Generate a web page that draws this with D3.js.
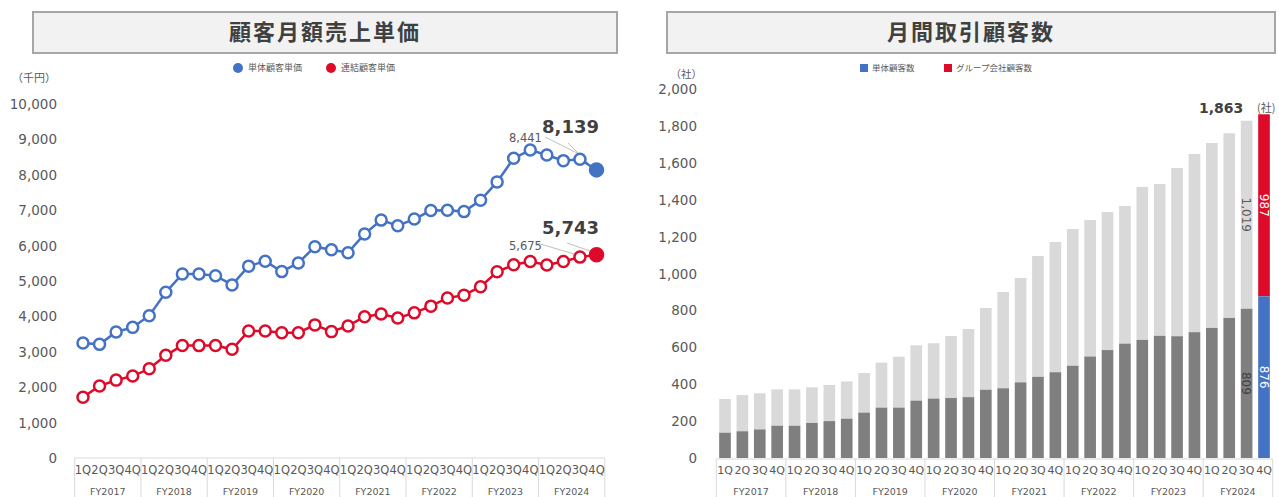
<!DOCTYPE html>
<html>
<head>
<meta charset="utf-8">
<script src="https://cdn.jsdelivr.net/npm/d3@7"></script>
<style>
  body { margin: 0; background: #fff; }
  svg { display: block; }
</style>
</head>
<body>
<div id="chart"></div>
<script>
// ---- data ----
const quarters = ["1Q", "2Q", "3Q", "4Q"];
const fiscalYears = ["FY2017", "FY2018", "FY2019", "FY2020", "FY2021", "FY2022", "FY2023", "FY2024"];

// 顧客月額売上単価 (千円)
const standalonePrice = [3250, 3210, 3560, 3690, 4020, 4680, 5200, 5200, 5150, 4890, 5420, 5560,
  5265, 5510, 5970, 5880, 5800, 6330, 6720, 6560, 6750, 6990, 7000, 6960,
  7280, 7800, 8470, 8700, 8560, 8400, 8441, 8139];
const consolidatedPrice = [1715, 2035, 2200, 2315, 2520, 2900, 3180, 3175, 3180, 3070, 3590, 3590,
  3540, 3540, 3760, 3570, 3730, 3990, 4070, 3955, 4100, 4290, 4520, 4600,
  4840, 5260, 5460, 5550, 5450, 5550, 5675, 5743];

// 月間取引顧客数 (社)
const standaloneCount = [137, 145, 155, 175, 175, 190, 200, 213, 246, 273, 273, 311,
  322, 325, 330, 370, 378, 410, 440, 465, 500, 550, 585, 620,
  640, 662, 660, 682, 705, 759, 809, 876];
const totalCount = [320, 341, 351, 372, 372, 383, 396, 415, 461, 517, 549, 611,
  622, 661, 699, 813, 900, 976, 1095, 1171, 1241, 1290, 1333, 1366,
  1469, 1485, 1572, 1648, 1707, 1760, 1828, 1863];

const leftTicks = d3.range(0, 10001, 1000);
const rightTicks = d3.range(0, 2001, 200);

const blue = "#4472c4";
const red = "#de0a2a";
const darkGray = "#7f7f7f";
const lightGray = "#d9d9d9";
const textGray = "#595959";
const numFont = "DejaVu Sans, sans-serif";
const jpFont = "Noto Sans CJK JP, sans-serif";

const width = 1279, height = 497;
const svg = d3.select("#chart").append("svg")
  .attr("width", width)
  .attr("height", height);

const quarterLabels = d3.range(32).map(i => quarters[i % 4]);
const fmt = d3.format(",");

// title boxes
function titleBox(x0, x1, text) {
  svg.append("rect")
    .attr("x", x0).attr("y", 12)
    .attr("width", x1 - x0).attr("height", 41)
    .attr("fill", "#f2f2f2")
    .attr("stroke", "#a6a6a6")
    .attr("stroke-width", 2);
  svg.append("text")
    .attr("x", (x0 + x1) / 2).attr("y", 40)
    .attr("text-anchor", "middle")
    .attr("font-family", jpFont)
    .attr("font-weight", "bold")
    .attr("font-size", 22)
    .attr("letter-spacing", 2)
    .attr("fill", "#404040")
    .text(text);
}
titleBox(33, 617, "顧客月額売上単価");
titleBox(667, 1275, "月間取引顧客数");

// category axis with fiscal year boxes
function categoryAxis(x, top, labelY, qSize) {
  const g = svg.append("g");
  const step = x.step();
  const start = x.range()[0];
  const end = x.range()[1];
  g.append("line")
    .attr("x1", start).attr("x2", end)
    .attr("y1", top).attr("y2", top)
    .attr("stroke", lightGray);
  d3.range(0, 33, 4).forEach(i => {
    const xx = start + i * step;
    g.append("line")
      .attr("x1", xx).attr("x2", xx)
      .attr("y1", top).attr("y2", height)
      .attr("stroke", lightGray);
  });
  g.selectAll(".q")
    .data(quarterLabels)
    .join("text")
    .attr("x", (d, i) => x(i) + x.bandwidth() / 2)
    .attr("y", labelY)
    .attr("text-anchor", "middle")
    .attr("font-family", numFont)
    .attr("font-size", qSize)
    .attr("fill", textGray)
    .text(d => d);
  g.selectAll(".fy")
    .data(fiscalYears)
    .join("text")
    .attr("x", (d, i) => start + (i * 4 + 2) * step)
    .attr("y", 495)
    .attr("text-anchor", "middle")
    .attr("font-family", numFont)
    .attr("font-size", 9.5)
    .attr("fill", textGray)
    .text(d => d);
}

// ---------------- left chart ----------------
const xL = d3.scaleBand().domain(d3.range(32)).range([74.7, 604.8]);
const yL = d3.scaleLinear().domain([0, 10000]).range([458, 104]);
const cx = i => xL(i) + xL.bandwidth() / 2;

svg.append("g")
  .selectAll("text")
  .data(leftTicks)
  .join("text")
  .attr("x", 57)
  .attr("y", d => yL(d) + 5)
  .attr("text-anchor", "end")
  .attr("font-family", numFont)
  .attr("font-size", 13.5)
  .attr("fill", textGray)
  .text(d => fmt(d));

svg.append("text")
  .attr("x", 56).attr("y", 82)
  .attr("text-anchor", "end")
  .attr("font-family", jpFont)
  .attr("font-size", 11)
  .attr("fill", textGray)
  .text("（千円）");

categoryAxis(xL, 458, 474, 11.5);

// legend
[[blue, "単体顧客単価", 238], [red, "連結顧客単価", 331]].forEach(([c, t, lx]) => {
  svg.append("circle").attr("cx", lx).attr("cy", 68).attr("r", 5).attr("fill", c);
  svg.append("text")
    .attr("x", lx + 10).attr("y", 71)
    .attr("font-family", jpFont)
    .attr("font-size", 9)
    .attr("fill", textGray)
    .text(t);
});

// leader lines + labels
const leaders = [
  [545, 137, 577, 153], [568, 143, 588, 163],
  [537, 243, 574, 254], [567, 243, 593, 252]
];
svg.append("g")
  .selectAll("line")
  .data(leaders)
  .join("line")
  .attr("x1", d => d[0]).attr("y1", d => d[1])
  .attr("x2", d => d[2]).attr("y2", d => d[3])
  .attr("stroke", "#bfbfbf")
  .attr("stroke-width", 1);

const line = d3.line().x((d, i) => cx(i)).y(d => yL(d));

[[standalonePrice, blue], [consolidatedPrice, red]].forEach(([vals, c]) => {
  svg.append("path")
    .datum(vals)
    .attr("fill", "none")
    .attr("stroke", c)
    .attr("stroke-width", 2.5)
    .attr("d", line);
  svg.append("g")
    .selectAll("circle")
    .data(vals)
    .join("circle")
    .attr("cx", (d, i) => cx(i))
    .attr("cy", d => yL(d))
    .attr("r", (d, i) => i === vals.length - 1 ? 6.5 : 5.5)
    .attr("fill", (d, i) => i === vals.length - 1 ? c : "#fff")
    .attr("stroke", c)
    .attr("stroke-width", 2.5);
});

function smallLabel(v, i, dy) {
  svg.append("text")
    .attr("x", cx(i) - 38).attr("y", yL(v) + dy)
    .attr("text-anchor", "end")
    .attr("font-family", numFont)
    .attr("font-size", 11.5)
    .attr("fill", textGray)
    .text(fmt(v));
}
function bigLabel(v, i, dy) {
  svg.append("text")
    .attr("x", cx(i) - 26).attr("y", yL(v) + dy)
    .attr("text-anchor", "middle")
    .attr("font-family", numFont)
    .attr("font-weight", "bold")
    .attr("font-size", 18)
    .attr("fill", "#404040")
    .text(fmt(v));
}
smallLabel(standalonePrice[30], 30, -17);
bigLabel(standalonePrice[31], 31, -37);
smallLabel(consolidatedPrice[30], 30, -7);
bigLabel(consolidatedPrice[31], 31, -21);

// ---------------- right chart ----------------
const xR = d3.scaleBand().domain(d3.range(32)).range([716.3, 1272.7])
  .paddingInner(0.33).paddingOuter(0.165);
const yR = d3.scaleLinear().domain([0, 2000]).range([458, 89]);

svg.append("g")
  .selectAll("text")
  .data(rightTicks)
  .join("text")
  .attr("x", 697)
  .attr("y", d => yR(d) + 5)
  .attr("text-anchor", "end")
  .attr("font-family", numFont)
  .attr("font-size", 13.5)
  .attr("fill", textGray)
  .text(d => fmt(d));

svg.append("text")
  .attr("x", 702).attr("y", 78)
  .attr("text-anchor", "end")
  .attr("font-family", jpFont)
  .attr("font-size", 10.5)
  .attr("fill", textGray)
  .text("（社）");

categoryAxis(xR, 459, 474, 11);

[[blue, "単体顧客数", 860], [red, "グループ会社顧客数", 944]].forEach(([c, t, lx]) => {
  svg.append("rect").attr("x", lx).attr("y", 64).attr("width", 8).attr("height", 8).attr("fill", c);
  svg.append("text")
    .attr("x", lx + 12).attr("y", 71)
    .attr("font-family", jpFont)
    .attr("font-size", 8.5)
    .attr("fill", textGray)
    .text(t);
});

const last = totalCount.length - 1;
const bars = svg.append("g");
bars.selectAll(".top")
  .data(totalCount)
  .join("rect")
  .attr("x", (d, i) => xR(i))
  .attr("width", xR.bandwidth())
  .attr("y", d => yR(d))
  .attr("height", (d, i) => yR(standaloneCount[i]) - yR(d))
  .attr("fill", (d, i) => i === last ? red : lightGray);
bars.selectAll(".bottom")
  .data(standaloneCount)
  .join("rect")
  .attr("x", (d, i) => xR(i))
  .attr("width", xR.bandwidth())
  .attr("y", d => yR(d))
  .attr("height", d => yR(0) - yR(d))
  .attr("fill", (d, i) => i === last ? blue : darkGray);

// vertical value labels on last two bars
function vLabel(i, v0, v1, text, color) {
  const xx = xR(i) + xR.bandwidth() / 2;
  const yy = (yR(v0) + yR(v1)) / 2;
  svg.append("text")
    .attr("transform", `translate(${xx},${yy}) rotate(90)`)
    .attr("text-anchor", "middle")
    .attr("dy", "0.35em")
    .attr("font-family", numFont)
    .attr("font-size", 12)
    .attr("fill", color)
    .text(text);
}
vLabel(last - 1, standaloneCount[last - 1], totalCount[last - 1],
  fmt(totalCount[last - 1] - standaloneCount[last - 1]), textGray);
vLabel(last - 1, 0, standaloneCount[last - 1], fmt(standaloneCount[last - 1]), "#404040");
vLabel(last, standaloneCount[last], totalCount[last],
  fmt(totalCount[last] - standaloneCount[last]), "#fff");
vLabel(last, 0, standaloneCount[last], fmt(standaloneCount[last]), "#fff");

svg.append("text")
  .attr("x", xR(last) - 37).attr("y", yR(totalCount[last]) - 1)
  .attr("text-anchor", "middle")
  .attr("font-family", numFont)
  .attr("font-weight", "bold")
  .attr("font-size", 14)
  .attr("fill", "#404040")
  .text(fmt(totalCount[last]));
svg.append("text")
  .attr("x", 1257).attr("y", yR(totalCount[last]) - 2)
  .attr("font-family", jpFont)
  .attr("font-size", 11)
  .attr("fill", textGray)
  .text("(社)");
</script>
</body>
</html>
